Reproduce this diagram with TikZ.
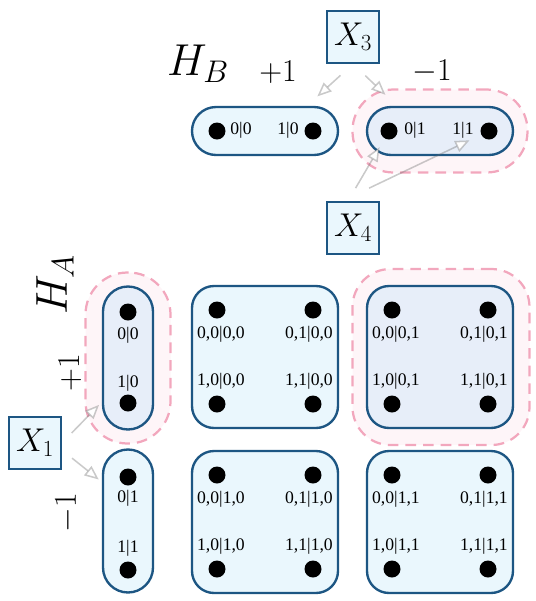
\RequirePackage{fix-cm}
\documentclass[tikz,border=0pt]{standalone}
\usepackage{amsmath}
\usepackage{fontspec}
\usepackage{xcolor}
\usetikzlibrary{arrows.meta,positioning}
\newfontfamily\lblfont{Liberation Serif}
\definecolor{cellblue}{HTML}{1D5683}
\definecolor{cellfill}{HTML}{EAF7FD}
\definecolor{pickfill}{HTML}{E7EEF9}
\definecolor{halopink}{HTML}{F2A7BD}
\definecolor{halofill}{HTML}{FEF5F8}
\newcommand{\pxu}{0.85pt}
\tikzset{
  cell/.style={draw=cellblue,fill=cellfill,line width=2pt,rounded corners=22*\pxu,
    minimum width=146*\pxu,minimum height=142*\pxu,inner sep=0pt},
  hbar/.style={cell,rounded corners=24*\pxu,minimum width=146*\pxu,minimum height=48*\pxu},
  vbar/.style={cell,rounded corners=25*\pxu,minimum width=50*\pxu,minimum height=143*\pxu},
  pick/.style={fill=pickfill},
  halo/.style={draw=halopink,fill=halofill,line width=1.9pt,dash pattern=on 9pt off 6pt,inner sep=0pt},
  dot/.style={circle,fill=black,minimum size=17*\pxu,inner sep=0pt},
  lbl/.style={font=\lblfont\fontsize{15}{15}\selectfont,inner sep=0pt},
  xbox/.style={draw=cellblue,fill=cellfill,line width=1.6pt,minimum size=52*\pxu,inner sep=0pt,
    font=\fontsize{28}{28}\selectfont},
  sign/.style={font=\fontsize{27}{27}\selectfont,inner sep=0pt},
  flow/.style={draw=black!60,draw opacity=0.35,line width=1.3pt,
    -{Triangle[open,length=12pt,width=10pt,fill=white]}},
}
\begin{document}
\begin{tikzpicture}[x=0.85pt,y=-0.85pt]
  \useasboundingbox (0,0) rectangle (536,601);
  % halos around the picked outcomes
  \node[halo,rounded corners=41*\pxu,minimum width=175*\pxu,minimum height=83*\pxu] (haloB) at (440,131) {};
  \node[halo,rounded corners=42*\pxu,minimum width=85*\pxu,minimum height=171*\pxu] (haloA) at (128,358) {};
  \node[halo,rounded corners=38*\pxu,minimum width=177*\pxu,minimum height=176*\pxu] (haloAB) at (441,357) {};
  % labels of the two systems
  \node[font=\fontsize{38}{38}\selectfont,inner sep=0pt] (hb) at (198,64) {$H_B$};
  \node[sign] (hbplus) at (278,72) {$+1$};
  \node[sign] (hbminus) at (432,72) {$-1$};
  \node[font=\fontsize{38}{38}\selectfont,inner sep=0pt,rotate=90] (ha) at (55,285) {$H_A$};
  \node[sign,rotate=90] (haplus) at (70,373) {$+1$};
  \node[sign,rotate=90] (haminus) at (67,513) {$-1$};
  % measurement boxes
  \node[xbox] (X3) at (353,37) {$X_3$};
  \node[xbox] (X4) at (353,228) {$X_4$};
  \node[xbox] (X1) at (35,443) {$X_1$};
  % system B
  \node[hbar] (B0) at (265,131) {};
  \node[hbar,pick] (B1) at (440,131) {};
  \node[dot] (dB00) at (217,131) {}; \node[lbl] (lB00) at (241,130) {0|0};
  \node[dot] (dB10) at (313,131) {}; \node[lbl] (lB10) at (288,130) {1|0};
  \node[dot] (dB01) at (389,131) {}; \node[lbl] (lB01) at (415,130) {0|1};
  \node[dot] (dB11) at (489,131) {}; \node[lbl] (lB11) at (463,130) {1|1};
  % system A
  \node[vbar,pick] (A0) at (128,358) {};
  \node[vbar] (A1) at (128,521) {};
  \node[dot] (dA00) at (128,312) {}; \node[lbl] (lA00) at (128,335) {0|0};
  \node[dot] (dA10) at (128,403) {}; \node[lbl] (lA10) at (128,383) {1|0};
  \node[dot] (dA01) at (128,477) {}; \node[lbl] (lA01) at (128,498) {0|1};
  \node[dot] (dA11) at (128,570) {}; \node[lbl] (lA11) at (128,548) {1|1};
  % joint outcomes, A = +1
  \node[cell] (C00) at (265,357) {};
  \node[dot] (d0000) at (217,310) {}; \node[lbl] (l0000) at (221,334) {0,0|0,0};
  \node[dot] (d0100) at (313,310) {}; \node[lbl] (l0100) at (309,334) {0,1|0,0};
  \node[dot] (d1000) at (217,404) {}; \node[lbl] (l1000) at (221,381) {1,0|0,0};
  \node[dot] (d1100) at (313,404) {}; \node[lbl] (l1100) at (309,381) {1,1|0,0};
  \node[cell,pick] (C01) at (440,357) {};
  \node[dot] (d0001) at (392,310) {}; \node[lbl] (l0001) at (396,334) {0,0|0,1};
  \node[dot] (d0101) at (488,310) {}; \node[lbl] (l0101) at (484,334) {0,1|0,1};
  \node[dot] (d1001) at (392,404) {}; \node[lbl] (l1001) at (396,381) {1,0|0,1};
  \node[dot] (d1101) at (488,404) {}; \node[lbl] (l1101) at (484,381) {1,1|0,1};
  % joint outcomes, A = -1
  \node[cell] (C10) at (265,522) {};
  \node[dot] (d0010) at (217,475) {}; \node[lbl] (l0010) at (221,499) {0,0|1,0};
  \node[dot] (d0110) at (313,475) {}; \node[lbl] (l0110) at (309,499) {0,1|1,0};
  \node[dot] (d1010) at (217,569) {}; \node[lbl] (l1010) at (221,546) {1,0|1,0};
  \node[dot] (d1110) at (313,569) {}; \node[lbl] (l1110) at (309,546) {1,1|1,0};
  \node[cell] (C11) at (440,522) {};
  \node[dot] (d0011) at (392,475) {}; \node[lbl] (l0011) at (396,499) {0,0|1,1};
  \node[dot] (d0111) at (488,475) {}; \node[lbl] (l0111) at (484,499) {0,1|1,1};
  \node[dot] (d1011) at (392,569) {}; \node[lbl] (l1011) at (396,546) {1,0|1,1};
  \node[dot] (d1111) at (488,569) {}; \node[lbl] (l1111) at (484,546) {1,1|1,1};
  % measurement arrows
  \draw[flow,shorten <=17*\pxu,shorten >=14*\pxu] (X3.south) -- ([xshift=42*\pxu]B0.north);
  \draw[flow,shorten <=17*\pxu,shorten >=16*\pxu] (X3.south) -- ([xshift=-43*\pxu]B1.north);
  \draw[flow,shorten <=15*\pxu,shorten >=10*\pxu] ([xshift=-5*\pxu]X4.north) -- (dB01);
  \draw[flow,shorten <=30*\pxu,shorten >=13*\pxu] ([xshift=-11*\pxu]X4.north) -- (dB11);
  \draw[flow,shorten <=14*\pxu,shorten >=4*\pxu] (X1.east) -- ([yshift=-44*\pxu]A0.west);
  \draw[flow,shorten <=13*\pxu,shorten >=4*\pxu] ([yshift=-7*\pxu]X1.east) -- ([yshift=39*\pxu]A1.west);
\end{tikzpicture}
\end{document}
